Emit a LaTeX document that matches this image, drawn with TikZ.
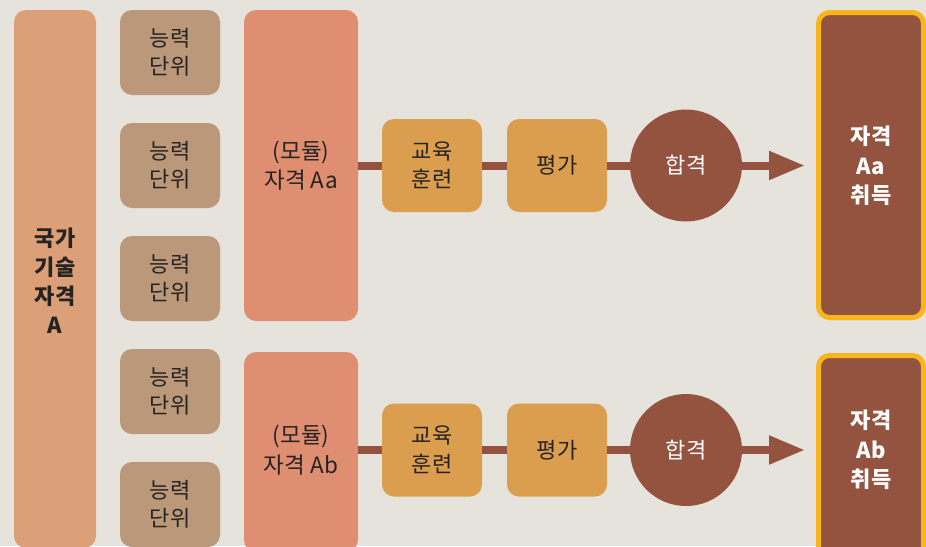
\documentclass[tikz,border=0pt]{standalone}
\usepackage{fontspec}
\setmainfont{Noto Sans CJK KR}
\usetikzlibrary{arrows.meta}
\definecolor{bg}{HTML}{E6E3DD}
\definecolor{natc}{HTML}{DBA078}
\definecolor{unitc}{HTML}{BB9879}
\definecolor{modc}{HTML}{E08E71}
\definecolor{stepc}{HTML}{DA9E4E}
\definecolor{darkc}{HTML}{94533F}
\definecolor{goldc}{HTML}{F8B61C}
\definecolor{txtc}{HTML}{262322}
\tikzset{
  box/.style={rectangle, rounded corners=12pt, inner sep=0pt, align=center, text=txtc,
    font=\fontsize{22}{28.5}\selectfont},
  natbox/.style={box, fill=natc, minimum width=82pt, minimum height=538pt},
  unitbox/.style={box, fill=unitc, minimum width=100pt, minimum height=85pt},
  modbox/.style={box, fill=modc, minimum width=114pt, font=\fontsize{22.5}{29.5}\selectfont},
  stepbox/.style={box, fill=stepc, minimum width=100pt, minimum height=93pt},
  passnode/.style={circle, fill=darkc, minimum size=112pt, inner sep=0pt, text=white,
    font=\fontsize{22}{28}\selectfont},
  resbox/.style={rectangle, rounded corners=11pt, fill=darkc, draw=goldc, line width=5pt,
    minimum width=105pt, inner sep=0pt},
  restext/.style={align=center, text=white, inner sep=0pt, font=\bfseries\fontsize{22}{29.5}\selectfont},
  freetext/.style={align=center, text=txtc, inner sep=0pt},
  flow/.style={draw=darkc, line width=8pt},
  flowarrow/.style={flow, -{Triangle[length=36pt,width=27pt]}}
}
\begin{document}
\begin{tikzpicture}[x=1pt,y=-1pt]
\fill[bg] (0,0) rectangle (926,546);
\useasboundingbox (0,0) rectangle (926,546);
\clip (0,0) rectangle (926,546);

% national qualification
\node[natbox] (nat) at (55,279) {};
\node[freetext, font=\bfseries\fontsize{22}{29}\selectfont] (nattxt) at (55,281) {국가\\기술\\자격\\A};

% ability units
\node[unitbox] (u1) at (170,52.5) {능력\\단위};
\node[unitbox] (u2) at (170,165.5) {능력\\단위};
\node[unitbox] (u3) at (170,278.5) {능력\\단위};
\node[unitbox] (u4) at (170,391.5) {능력\\단위};
\node[unitbox] (u5) at (170,504.5) {능력\\단위};

% modules
\node[modbox, minimum height=311pt] (mA) at (301,165.5) {(모듈)\\자격 Aa};
\node[modbox, minimum height=200pt] (mB) at (301,452) {};
\node[freetext, font=\fontsize{22.5}{29.5}\selectfont] (mBtxt) at (301,450) {(모듈)\\자격 Ab};

% steps row A
\node[stepbox] (eA) at (432,165.5) {교육\\훈련};
\node[stepbox] (vA) at (557,165.5) {평가};
\node[passnode] (pA) at (686,165.5) {합격};
\coordinate (tA) at (805,165.5);

% steps row B
\node[stepbox] (eB) at (432,450) {교육\\훈련};
\node[stepbox] (vB) at (557,450) {평가};
\node[passnode] (pB) at (686,450) {합격};
\coordinate (tB) at (805,450);

% results
\node[resbox, minimum height=305pt] (rA) at (871,165) {};
\node[restext] (rAtxt) at (871,166) {자격\\Aa\\취득};
\node[resbox, minimum height=210pt] (rB) at (871,460.5) {};
\node[restext] (rBtxt) at (871,450) {자격\\Ab\\취득};

% connectors
\draw[flow] (mA.east |- eA.west) -- (eA.west);
\draw[flow] (eA.east) -- (vA.west);
\draw[flow] (vA.east) -- (pA.west);
\draw[flowarrow] (pA.east) -- (tA);
\draw[flow] (mB.east |- eB.west) -- (eB.west);
\draw[flow] (eB.east) -- (vB.west);
\draw[flow] (vB.east) -- (pB.west);
\draw[flowarrow] (pB.east) -- (tB);
\end{tikzpicture}
\end{document}
